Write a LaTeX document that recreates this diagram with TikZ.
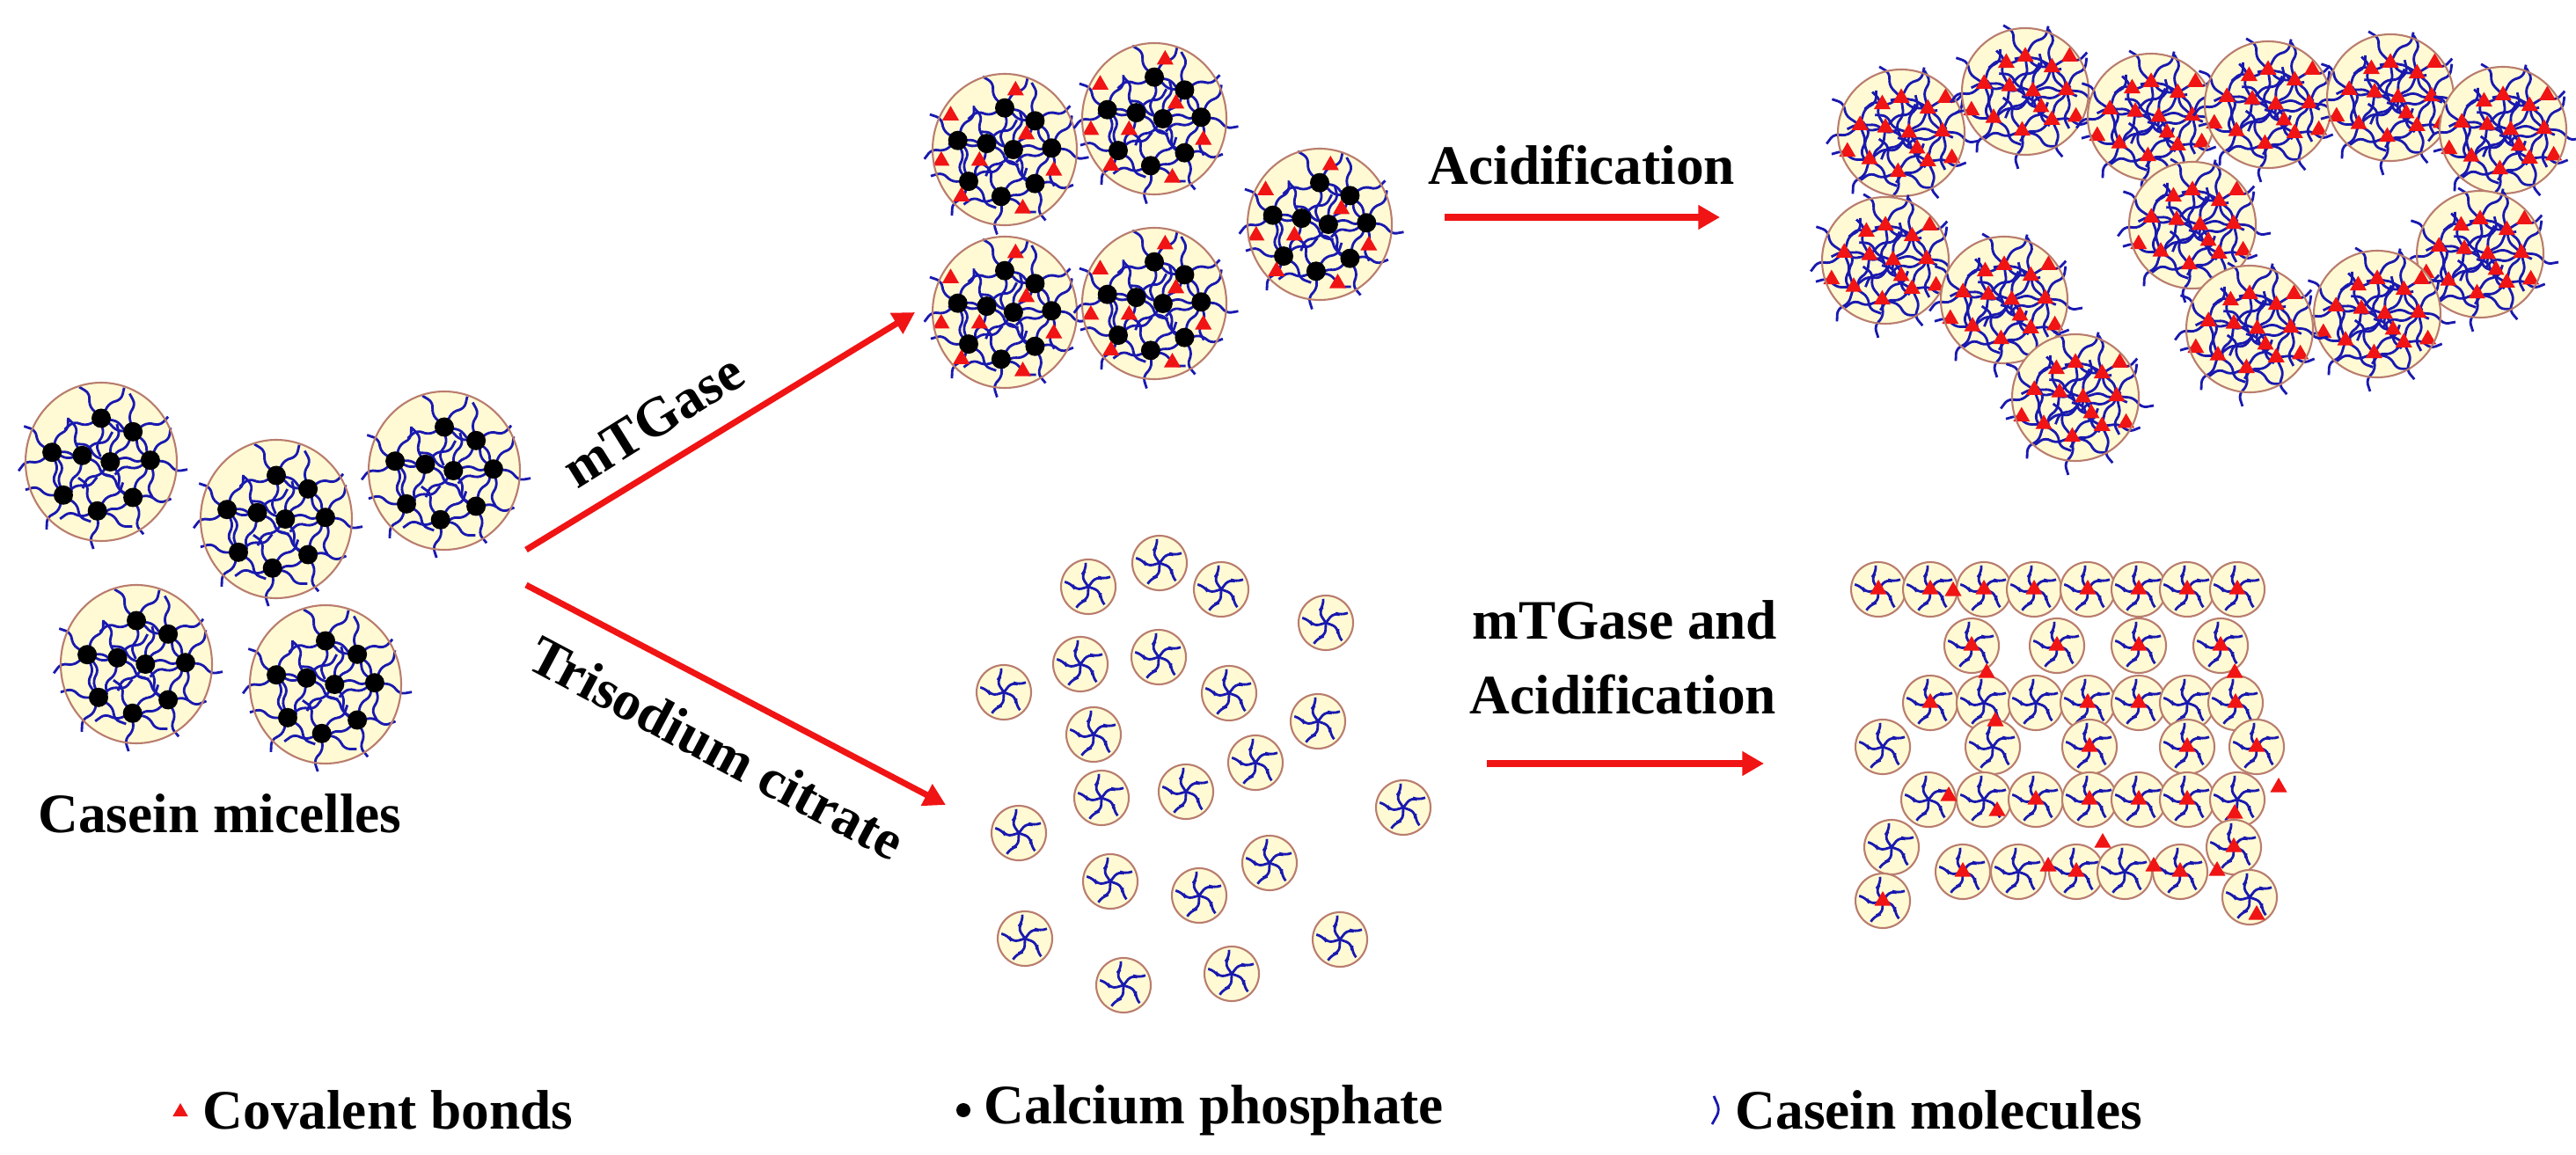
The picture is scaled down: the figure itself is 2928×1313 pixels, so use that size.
\documentclass[tikz,border=0pt]{standalone}
\usepackage{fontspec}
\setmainfont{Liberation Serif}
\usetikzlibrary{arrows.meta}
\definecolor{cream}{RGB}{255,250,212}
\definecolor{rim}{RGB}{185,125,110}
\definecolor{cas}{RGB}{25,25,175}
\definecolor{tred}{RGB}{240,20,20}
\tikzset{casline/.style={cas,line width=0.8pt,rounded corners=2pt},
 rimline/.style={rim,line width=0.6pt},
 redarrow/.style={tred,line width=2pt,-{Triangle[length=7pt,width=7.5pt]}},
 lbl/.style={font=\fontsize{18}{21}\selectfont\bfseries,inner sep=0pt}}
\newcommand\myhubarms[3]{%
 \foreach \k in {0,...,4}{\pgfmathsetmacro\aa{#3+72*\k}
  \draw[casline] (#1,#2) -- ++(\aa:21) -- ++(\aa+55:13) -- ++(\aa-15:15);}}
\newcommand\mytri[3]{\fill[tred] (#1,#2) ++(0,{-#3}) -- ++({0.866*#3},{1.5*#3}) -- ++({-1.732*#3},0) -- cycle;}
\newcommand\mybigmic[5]{%
 \begin{scope}[shift={(#1,#2)}]
 \fill[cream] (0,0) ellipse[x radius=#3,y radius=#4];
 \foreach \hx/\hy/\ha in {0/-0.55/10, 0.42/-0.38/40, -0.65/-0.12/70, -0.25/-0.08/25, 0.12/0.0/55, 0.65/-0.02/5, -0.5/0.42/35, 0.42/0.45/65, -0.05/0.62/15}{
   \myhubarms{\hx*#3}{\hy*#4}{\ha}
 }
 \foreach \hx/\hy in {0/-0.55, 0.42/-0.38, -0.65/-0.12, -0.25/-0.08, 0.12/0.0, 0.65/-0.02, -0.5/0.42, 0.42/0.45, -0.05/0.62}{
   \ifnum#5<2 \fill[black] (\hx*#3,\hy*#4) circle[radius=11];
   \else \mytri{\hx*#3}{\hy*#4}{11}\fi
 }
 \ifnum#5=1
 \foreach \hx/\hy in {0.15/-0.78, -0.75/-0.45, 0.3/-0.2, -0.88/0.15, -0.35/0.15, 0.68/0.28, -0.6/0.62, 0.25/0.78}{
   \mytri{\hx*#3}{\hy*#4}{11}}
 \fi
 \ifnum#5=2
 \foreach \hx/\hy in {-0.3/-0.45, 0.7/-0.55, -0.85/0.3, 0.25/0.25, 0.8/0.4}{
   \mytri{\hx*#3}{\hy*#4}{11}}
 \fi
 \draw[rimline] (0,0) ellipse[x radius=#3,y radius=#4];
 \end{scope}}
\newcommand\mysmallmic[3]{%
 \begin{scope}[shift={(#1,#2)}]
 \fill[cream] (0,0) circle[radius=31];
 \foreach \k in {0,...,4}{\pgfmathsetmacro\aa{20+72*\k}
  \draw[casline] (0,0) -- ++(\aa:15) -- ++(\aa+75:9) -- ++(\aa+30:8);}
 \ifnum#3=1 \mytri{0}{0}{11}\fi
 \draw[rimline] (0,0) circle[radius=31];
 \end{scope}}
\begin{document}
\begin{tikzpicture}[x=0.01cm,y=-0.01cm]
\useasboundingbox (0,0) rectangle (2928,1313);
% left casein micelles
\foreach \x/\y in {115/525, 314/590, 505/535, 155/755, 370/778}{\mybigmic{\x}{\y}{86}{90}{0}}
\node[lbl] (cm) at (250,925) {Casein micelles};
% mTGase branch
\foreach \x/\y in {1142/170, 1312/135, 1142/355, 1312/345, 1500/255}{\mybigmic{\x}{\y}{82}{86}{1}}
% network
\foreach \x/\y in {2161/151, 2143/296, 2302/104, 2445/133, 2578/119, 2717/111, 2845/148, 2492/256, 2819/289, 2702/357, 2557/374, 2278/341, 2359/452}{\mybigmic{\x}{\y}{72}{72}{2}}
% dissociated
\foreach \x/\y in {1237/667, 1318/640, 1388/670, 1507/708, 1228/755, 1317/747, 1397/788, 1498/820, 1141/787, 1243/835, 1427/867, 1252/907, 1348/900, 1158/947, 1262/1002, 1363/1018, 1595/918, 1443/981, 1165/1067, 1277/1120, 1400/1107, 1523/1068}{\mysmallmic{\x}{\y}{0}}
% grid
\foreach \x/\y/\t in {2135/670/1, 2194/670/1, 2255/670/1, 2312/670/1, 2373/670/1, 2431/670/1, 2486/670/1, 2543/670/1,
 2241/734/1, 2338/734/1, 2431/734/1, 2524/734/1,
 2194/799/1, 2255/799/0, 2314/799/0, 2373/799/1, 2431/799/1, 2486/799/0, 2541/799/1,
 2140/849/0, 2265/849/0, 2375/849/1, 2486/849/1, 2565/849/1,
 2192/909/0, 2255/909/0, 2314/909/1, 2375/909/1, 2431/909/1, 2486/909/1, 2543/909/0,
 2150/963/0, 2539/963/1,
 2231/991/1, 2294/991/0, 2360/991/1, 2415/991/0, 2478/991/1,
 2140/1024/1, 2557/1020/0}{\mysmallmic{\x}{\y}{\t}}
\foreach \x/\y in {2220/672, 2258/765, 2540/765, 2268/820, 2215/905, 2270/922, 2328/985, 2390/958, 2448/985, 2540/925, 2590/895, 2520/990, 2565/1040}{\mytri{\x}{\y}{11}}
% arrows and labels
\coordinate (a1s) at (598,625); \coordinate (a1e) at (1040,355);
\coordinate (a2s) at (598,665); \coordinate (a2e) at (1075,915);
\draw[redarrow] (a1s) -- (a1e);
\draw[redarrow] (a2s) -- (a2e);
\node[lbl,rotate=32] (l1) at (742,478) {mTGase};
\node[lbl,rotate=-28] (l2) at (815,850) {Trisodium citrate};
\coordinate (a3s) at (1642,247); \coordinate (a3e) at (1955,247);
\draw[redarrow] (a3s) -- (a3e);
\node[lbl,anchor=base west] (l3) at (1623,210) {Acidification};
\coordinate (a4s) at (1690,868); \coordinate (a4e) at (2005,868);
\draw[redarrow] (a4s) -- (a4e);
\node[lbl,anchor=west] (l4) at (1673,705) {mTGase and};
\node[lbl,anchor=west] (l5) at (1670,790) {Acidification};
% legend
\mytri{205}{1264}{10}
\node[lbl,anchor=west] (g1) at (230,1262) {Covalent bonds};
\fill[black] (1095,1262) circle[radius=8];
\node[lbl,anchor=west] (g2) at (1118,1262) {Calcium phosphate};
\draw[casline] (1948,1246) -- (1955,1262) -- (1946,1278);
\node[lbl,anchor=west] (g3) at (1972,1262) {Casein molecules};
\end{tikzpicture}
\end{document}
